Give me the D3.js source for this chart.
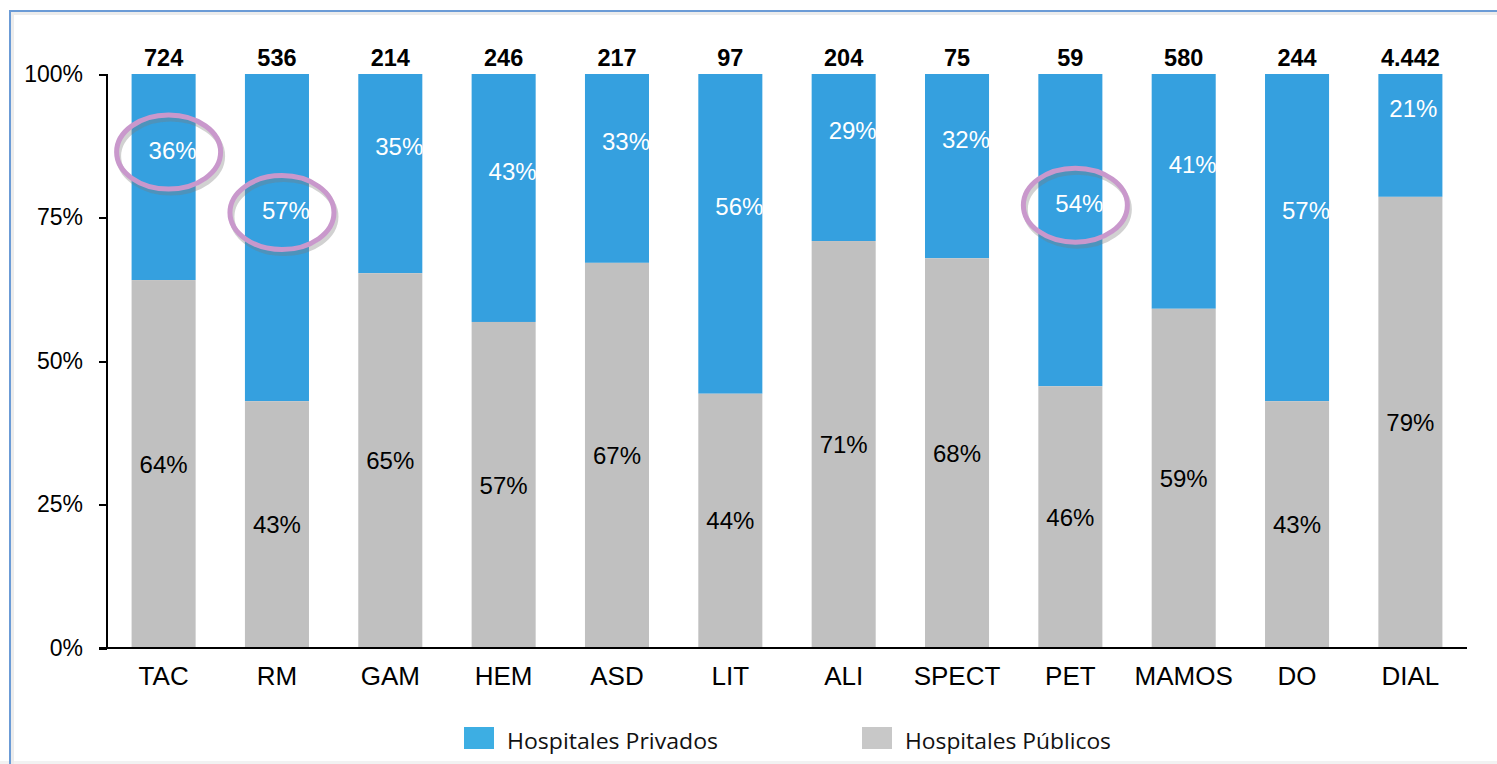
<!DOCTYPE html>
<html>
<head>
<meta charset="utf-8">
<title></title>
<script src="https://d3js.org/d3.v7.min.js"></script>
<style>
body { margin: 0; background: #fff; font-family: "Liberation Sans", Arial, sans-serif; }
.axis path, .axis line { stroke: #000; stroke-width: 2; shape-rendering: crispEdges; }
.axis text { font-family: "Liberation Sans", Arial, sans-serif; fill: #000; }
.total { font-weight: bold; font-size: 23.5px; }
.pct { font-size: 24px; }
.legend text { font-family: "Open Sans", "Noto Sans", sans-serif; font-size: 21px; }
</style>
</head>
<body>
<div class="content"></div>
<script>
var categories = ["TAC", "RM", "GAM", "HEM", "ASD", "LIT", "ALI", "SPECT", "PET", "MAMOS", "DO", "DIAL"];
var totals = ["724", "536", "214", "246", "217", "97", "204", "75", "59", "580", "244", "4.442"];
// share of public hospitals (%)
var publicos = [64.1, 43.0, 65.3, 56.8, 67.1, 44.3, 70.9, 67.9, 45.6, 59.1, 43.0, 78.6];
var publicosLbl = [64, 43, 65, 57, 67, 44, 71, 68, 46, 59, 43, 79];
var privadosLbl = [36, 57, 35, 43, 33, 56, 29, 32, 54, 41, 57, 21];
var yTicks = [0, 25, 50, 75, 100];
var marcados = ["TAC", "RM", "PET"];
var series = ["Hospitales Privados", "Hospitales Públicos"];

var colBlue = "#35a0df", colGray = "#c0c0c0";

var W = 1497, H = 764;
var svg = d3.select(".content").append("svg").attr("width", W).attr("height", H);

// frame (open at the bottom and on the right)
svg.append("rect").attr("x", 0).attr("y", H - 3).attr("width", W).attr("height", 3).style("fill", "#f2f2f2");
svg.append("rect").attr("x", 12).attr("y", 13).attr("width", W).attr("height", H)
	.style("fill", "none").style("stroke", "#ececec").style("stroke-width", 4);
svg.append("rect").attr("x", 10).attr("y", 11).attr("width", W + 10).attr("height", H + 10)
	.style("fill", "none").style("stroke", "#6b9bd6").style("stroke-width", 2);

var x = d3.scaleBand().domain(categories).range([107, 1467]).paddingInner(0.435).paddingOuter(0.217);
var y = d3.scaleLinear().domain([0, 100]).range([648, 74]);

// bars
var g = svg.append("g");
g.selectAll(".priv").data(categories).enter().append("rect")
	.attr("x", function (d) { return x(d); })
	.attr("width", x.bandwidth())
	.attr("y", y(100))
	.attr("height", function (d, i) { return y(publicos[i]) - y(100); })
	.style("fill", colBlue);
g.selectAll(".pub").data(categories).enter().append("rect")
	.attr("x", function (d) { return x(d); })
	.attr("width", x.bandwidth())
	.attr("y", function (d, i) { return y(publicos[i]); })
	.attr("height", function (d, i) { return y(0) - y(publicos[i]); })
	.style("fill", colGray);

// axes
var yAxis = d3.axisLeft(y).tickValues(yTicks).tickSize(8).tickPadding(16).tickFormat(function (d) { return d + "%"; });
var ya = svg.append("g").attr("class", "axis").attr("transform", "translate(107,0)").call(yAxis);
ya.selectAll("text").style("font-size", "23px");
ya.select(".domain").attr("d", "M0," + y(100) + "V" + y(0));

var xAxis = d3.axisBottom(x).tickSize(0).tickPadding(19);
var xa = svg.append("g").attr("class", "axis").attr("transform", "translate(0," + y(0) + ")").call(xAxis);
xa.selectAll("text").style("font-size", "26px");
xa.select(".domain").attr("d", "M99,0H1467");

// labels
g.selectAll(".total").data(categories).enter().append("text")
	.attr("class", "total")
	.attr("x", function (d) { return x(d) + x.bandwidth() / 2; })
	.attr("y", y(100) - 8)
	.attr("text-anchor", "middle")
	.text(function (d, i) { return totals[i]; });

function privY(i) { return (y(100) + y(publicos[i])) / 2 - 27; }
function privX(d, i) { return x(d) + x.bandwidth() / 2 + (i == 11 ? 3 : 9); }

g.selectAll(".lpriv").data(categories).enter().append("text")
	.attr("class", "pct")
	.attr("x", privX)
	.attr("y", function (d, i) { return privY(i); })
	.attr("dy", "0.36em")
	.attr("text-anchor", "middle")
	.style("fill", "#fff")
	.text(function (d, i) { return privadosLbl[i] + "%"; });

g.selectAll(".lpub").data(categories).enter().append("text")
	.attr("class", "pct")
	.attr("x", function (d) { return x(d) + x.bandwidth() / 2; })
	.attr("y", function (d, i) { return (y(publicos[i]) + y(0)) / 2; })
	.attr("dy", "0.36em")
	.attr("text-anchor", "middle")
	.style("fill", "#000")
	.text(function (d, i) { return publicosLbl[i] + "%"; });

// highlight ellipses
var ann = svg.append("g");
marcados.forEach(function (c) {
	var i = categories.indexOf(c);
	var cx = x(c) + x.bandwidth() / 2 + 5, cy = privY(i) + 2;
	ann.append("ellipse").attr("cx", cx + 2).attr("cy", cy + 4).attr("rx", 52).attr("ry", 37)
		.style("fill", "none").style("stroke", "#7a7a7a").style("stroke-opacity", 0.35).style("stroke-width", 5);
	ann.append("ellipse").attr("cx", cx).attr("cy", cy).attr("rx", 52).attr("ry", 37)
		.style("fill", "none").style("stroke", "#c998cc").style("stroke-width", 5);
});

// legend
var leg = svg.append("g").attr("class", "legend");
var legX = [464, 862], legCol = ["#3daee3", "#c8c8c8"], legLen = [211, 206];
series.forEach(function (s, i) {
	leg.append("rect").attr("x", legX[i]).attr("y", 727).attr("width", 30).attr("height", 22).style("fill", legCol[i]);
	leg.append("text").attr("x", legX[i] + 43).attr("y", 749)
		.attr("textLength", legLen[i]).attr("lengthAdjust", "spacingAndGlyphs")
		.style("fill", "#111").text(s);
});
</script>
</body>
</html>
